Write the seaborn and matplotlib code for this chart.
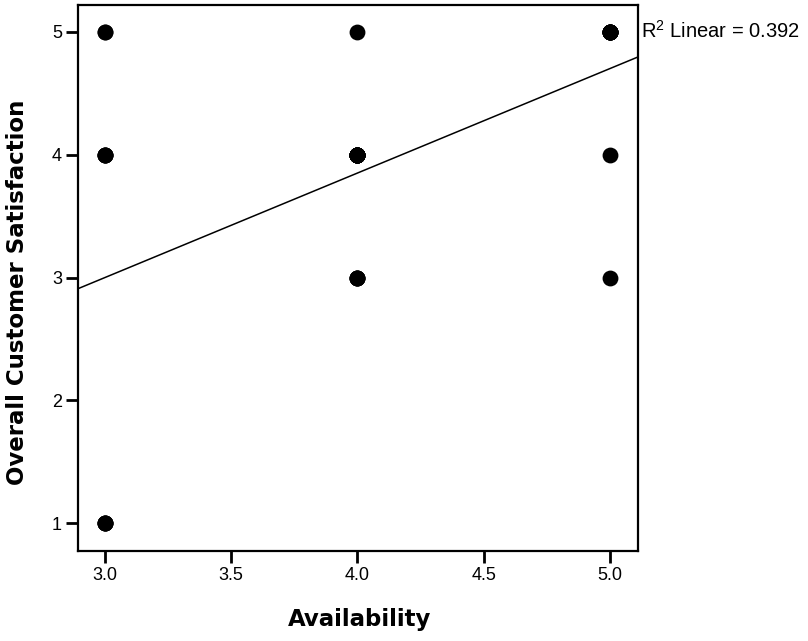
import numpy as np
import matplotlib
matplotlib.use("Agg")
from matplotlib import pyplot as plt
import seaborn as sns
import pandas as pd

# scatter values, with estimated number of cases per dot
availability = [3, 3, 3, 4, 4, 4, 5, 5, 5]
satisfaction = [5, 4, 1, 5, 4, 3, 5, 4, 3]
n_cases = [2, 4, 4, 1, 15, 4, 8, 1, 1]
r2_text = "R$^2$ Linear = 0.392"

df = pd.DataFrame({
    'availability': np.repeat(availability, n_cases),
    'satisfaction': np.repeat(satisfaction, n_cases),
})

sns.set_style("ticks")
plt.rcParams['font.family'] = ['Liberation Sans', 'DejaVu Sans']
plt.rcParams['mathtext.fontset'] = 'custom'
plt.rcParams['mathtext.rm'] = 'Liberation Sans'
plt.rcParams['text.color'] = 'black'
plt.rcParams['axes.labelcolor'] = 'black'

fig = plt.figure(figsize=(8.08, 6.41), dpi=100)
ax = fig.add_axes([78/808, 1-551/641, 560/808, 546/641])

# fix limits first so the fit line spans the whole axis
ax.set_xlim(2.893, 5.111)
ax.set_ylim(0.775, 5.217)

sns.regplot(
    data=df, x='availability', y='satisfaction', ax=ax,
    ci=None, truncate=False, color='black',
    scatter_kws={'s': 130, 'linewidths': 0, 'alpha': 1},
    line_kws={'lw': 1.1},
)
ax.set_xlim(2.893, 5.111)
ax.set_ylim(0.775, 5.217)

ax.set_xticks([3.0, 3.5, 4.0, 4.5, 5.0])
ax.set_xticklabels(['3.0', '3.5', '4.0', '4.5', '5.0'])
ax.set_yticks([1, 2, 3, 4, 5])

for sp in ax.spines.values():
    sp.set_visible(True)
    sp.set_linewidth(1.6)
    sp.set_color('black')
ax.tick_params(axis='both', length=8.5, width=2, color='black',
               labelsize=13, pad=3, labelcolor='black')

ax.set_xlabel('Availability', fontsize=16.5, fontweight='bold',
              family='DejaVu Sans', color='black')
ax.set_ylabel('Overall Customer Satisfaction', fontsize=16.5, fontweight='bold',
              family='DejaVu Sans', color='black')
ax.xaxis.set_label_coords(0.503, -0.104)
ax.yaxis.set_label_coords(-0.088, 0.4734)

ax.text(1.005, 0.952, r2_text, transform=ax.transAxes, ha='left',
        va='center', fontsize=14.5, color='black', clip_on=False)

fig.savefig('out.png', dpi=100)
